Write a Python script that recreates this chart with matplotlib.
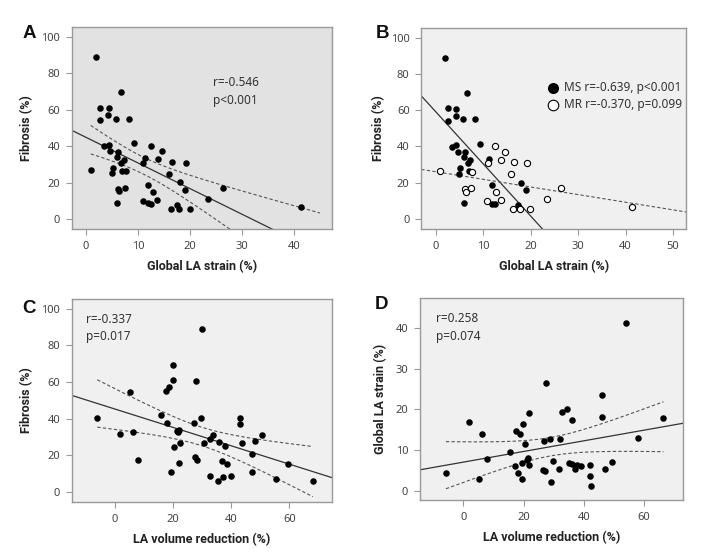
import matplotlib.pyplot as plt
import numpy as np

plt.rcParams['font.family'] = ['Noto Sans', 'DejaVu Sans']

# Panels A/B: global LA strain vs fibrosis (MS = filled, MR = open)
ms_strain = [1.9, 2.7, 2.6, 4.4, 4.3, 6.7, 5.8, 8.2, 9.3, 3.5, 4.4, 4.7, 6.2, 6.0,
             7.3, 6.8, 11.3, 5.2, 5.0, 7.0, 11.9, 18.0, 19.1, 6.0, 11.9, 12.5, 17.4]
ms_fibrosis = [89.0, 61.0, 54.3, 60.8, 57.0, 69.4, 55.1, 54.9, 41.5, 39.8, 40.6, 37.2, 36.7, 34.1,
               32.5, 30.7, 33.2, 28.2, 25.1, 26.5, 18.7, 20.1, 15.8, 8.6, 8.5, 8.4, 7.6]
mr_strain = [0.9, 6.2, 6.4, 7.5, 7.7, 11.0, 12.5, 14.6, 13.8, 16.6, 19.2, 15.9, 12.8, 10.9,
             13.7, 16.3, 17.8, 19.9, 23.4, 26.4, 41.4]
mr_fibrosis = [26.6, 16.3, 15.1, 17.1, 26.1, 30.8, 40.3, 37.1, 32.8, 31.3, 30.9, 24.8, 15.0, 9.7,
               10.4, 5.7, 5.6, 5.3, 11.0, 17.1, 6.7]

# Panel C: LA volume reduction vs fibrosis
c_vol_red = [-6.0, 1.8, 6.4, 5.4, 7.9, 15.9, 18.0, 17.5, 18.7, 20.0, 19.9, 21.3, 22.1, 21.6, 20.5,
             22.4, 22.2, 19.2, 27.3, 27.8, 29.9, 29.7, 27.6, 28.2, 30.7, 32.8, 33.7, 32.8, 35.4, 35.9,
             36.8, 37.1, 38.0, 38.5, 40.0, 43.0, 43.0, 43.6, 47.3, 47.2, 48.3, 50.6, 55.4, 59.5, 68.1]
c_fibrosis = [40.4, 31.3, 32.8, 54.3, 17.1, 41.9, 37.4, 55.0, 57.0, 61.2, 69.4, 33.2, 33.7, 32.4, 24.6,
              26.4, 15.8, 10.8, 37.4, 60.7, 88.9, 40.4, 18.8, 17.3, 26.4, 28.6, 31.1, 8.4, 5.7, 27.3,
              16.6, 7.9, 25.1, 15.1, 8.6, 40.1, 36.8, 26.6, 20.4, 10.9, 27.7, 31.0, 6.9, 15.3, 5.8]

# Panel D: LA volume reduction vs global LA strain
d_vol_red = [-5.8, 1.8, 6.2, 5.3, 7.7, 15.5, 17.5, 18.8, 17.2, 18.3, 19.6, 19.5, 19.9, 20.6, 21.7,
             21.6, 21.1, 21.7, 26.6, 27.2, 26.9, 27.5, 28.9, 29.1, 29.9, 32.1, 31.9, 32.9, 34.5, 35.1,
             36.1, 36.1, 37.0, 37.7, 39.1, 42.1, 42.1, 42.3, 46.1, 46.1, 47.1, 49.5, 54.2, 58.1, 66.5]
d_strain = [4.4, 16.8, 14.0, 2.9, 7.7, 9.5, 14.8, 13.9, 6.1, 4.4, 2.9, 6.9, 16.3, 11.5, 19.2,
            8.0, 7.6, 6.3, 5.0, 4.7, 12.2, 26.5, 12.7, 2.1, 7.2, 12.6, 5.4, 19.4, 20.1, 6.9,
            17.5, 6.6, 5.3, 6.3, 6.1, 6.3, 3.6, 1.1, 23.6, 18.2, 5.4, 7.0, 41.4, 13.0, 18.0]

T_975 = 2.01  # t quantile for 95% CI, df ~ 45

LINE = '#333333'
DASH = '#555555'
SPINE = '#999999'


def style_axes(ax, face):
    ax.set_facecolor(face)
    for s in ax.spines.values():
        s.set_color(SPINE)
        s.set_linewidth(1.0)
    ax.tick_params(direction='out', length=4, width=0.8, color=SPINE,
                   labelsize=8, labelcolor='#444444', pad=4.5)


def fit_with_band(ax, x, y, band_to=None):
    x = np.asarray(x, float)
    y = np.asarray(y, float)
    slope, icpt = np.polyfit(x, y, 1)
    xl = np.array(ax.get_xlim())
    ax.plot(xl, icpt + slope * xl, color=LINE, lw=0.9, zorder=2)
    n = len(x)
    resid = y - (icpt + slope * x)
    s = np.sqrt(np.sum(resid ** 2) / (n - 2))
    sxx = np.sum((x - x.mean()) ** 2)
    xb = np.linspace(x.min(), band_to if band_to else x.max(), 200)
    yb = icpt + slope * xb
    half = T_975 * s * np.sqrt(1.0 / n + (xb - x.mean()) ** 2 / sxx)
    for sign in (1, -1):
        ax.plot(xb, yb + sign * half, color=DASH, lw=0.8, ls=(0, (3, 2)), zorder=2)
    ax.set_xlim(xl)


fig = plt.figure(figsize=(7.18, 5.52), dpi=100)

lbl = dict(fontsize=9, fontweight='bold', color='#222222', family=['Roboto', 'DejaVu Sans'])
panel = dict(fontsize=13.5, fontweight='bold', color='#111111', family=['Liberation Sans', 'DejaVu Sans'],
             va='baseline')
note = dict(fontsize=8.5, color='#333333', va='center')

# ---- A
axA = fig.add_axes([0.1003, 0.5851, 0.3621, 0.366])
style_axes(axA, '#e2e2e2')
axA.set_xlim(-2.7, 47.3)
axA.set_ylim(-5.5, 105.3)
all_strain = ms_strain + mr_strain
all_fib = ms_fibrosis + mr_fibrosis
axA.scatter(all_strain, all_fib, s=22, color='black', zorder=3, linewidths=0)
fit_with_band(axA, all_strain, all_fib, band_to=45)
axA.set_xticks([0, 10, 20, 30, 40])
axA.set_yticks([0, 20, 40, 60, 80, 100])
axA.set_xlabel('Global LA strain (%)', labelpad=6, **lbl)
axA.set_ylabel('Fibrosis (%)', labelpad=6, **lbl)
axA.text(0.542, 0.723, 'r=-0.546', transform=axA.transAxes, **note)
axA.text(0.542, 0.635, 'p<0.001', transform=axA.transAxes, **note)
fig.text(0.031, 0.931, 'A', **panel)

# ---- B
axB = fig.add_axes([0.5868, 0.5851, 0.3691, 0.3642])
style_axes(axB, '#f0f0f0')
axB.set_xlim(-3.0, 52.8)
axB.set_ylim(-5.5, 105.3)
hMS = axB.scatter(ms_strain, ms_fibrosis, s=22, color='black', zorder=3, linewidths=0,
                  label='MS r=-0.639, p<0.001')
hMR = axB.scatter(mr_strain, mr_fibrosis, s=20, facecolor='white', edgecolor='black',
                  linewidths=0.8, zorder=3, label='MR r=-0.370, p=0.099')
xl = np.array(axB.get_xlim())
k, b = np.polyfit(ms_strain, ms_fibrosis, 1)
axB.plot(xl, b + k * xl, color=LINE, lw=0.9, zorder=2)
k, b = np.polyfit(mr_strain, mr_fibrosis, 1)
axB.plot(xl, b + k * xl, color=DASH, lw=0.8, ls=(0, (3, 2)), zorder=2)
axB.set_xlim(xl)
axB.set_xticks([0, 10, 20, 30, 40, 50])
axB.set_yticks([0, 20, 40, 60, 80, 100])
axB.set_xlabel('Global LA strain (%)', labelpad=6, **lbl)
axB.set_ylabel('Fibrosis (%)', labelpad=4, **lbl)
axB.legend(handles=[hMS, hMR], loc='center left', bbox_to_anchor=(0.435, 0.66),
           frameon=False, markerscale=1.7, handlelength=1.0, handletextpad=0.45,
           labelspacing=0.35, fontsize=8.5, labelcolor='#333333')
fig.text(0.524, 0.931, 'B', **panel)

# ---- C
axC = fig.add_axes([0.1003, 0.0906, 0.3621, 0.3683])
style_axes(axC, '#f0f0f0')
axC.set_xlim(-14.7, 74.7)
axC.set_ylim(-5.6, 105.5)
axC.scatter(c_vol_red, c_fibrosis, s=22, color='black', zorder=3, linewidths=0)
fit_with_band(axC, c_vol_red, c_fibrosis)
axC.set_xticks([0, 20, 40, 60])
axC.set_yticks([0, 20, 40, 60, 80, 100])
axC.set_xlabel('LA volume reduction (%)', labelpad=6, **lbl)
axC.set_ylabel('Fibrosis (%)', labelpad=6, **lbl)
axC.text(0.054, 0.899, 'r=-0.337', transform=axC.transAxes, **note)
axC.text(0.054, 0.812, 'p=0.017', transform=axC.transAxes, **note)
fig.text(0.031, 0.433, 'C', **panel)

# ---- D
axD = fig.add_axes([0.585, 0.0937, 0.3663, 0.3659])
style_axes(axD, '#f0f0f0')
axD.set_xlim(-14.4, 73.0)
axD.set_ylim(-2.4, 47.4)
axD.scatter(d_vol_red, d_strain, s=22, color='black', zorder=3, linewidths=0)
fit_with_band(axD, d_vol_red, d_strain)
axD.set_xticks([0, 20, 40, 60])
axD.set_yticks([0, 10, 20, 30, 40])
axD.set_xlabel('LA volume reduction (%)', labelpad=6, **lbl)
axD.set_ylabel('Global LA strain (%)', labelpad=6, **lbl)
axD.text(0.062, 0.899, 'r=0.258', transform=axD.transAxes, **note)
axD.text(0.062, 0.809, 'p=0.074', transform=axD.transAxes, **note)
fig.text(0.522, 0.440, 'D', **panel)

fig.savefig('out.png', dpi=100)
